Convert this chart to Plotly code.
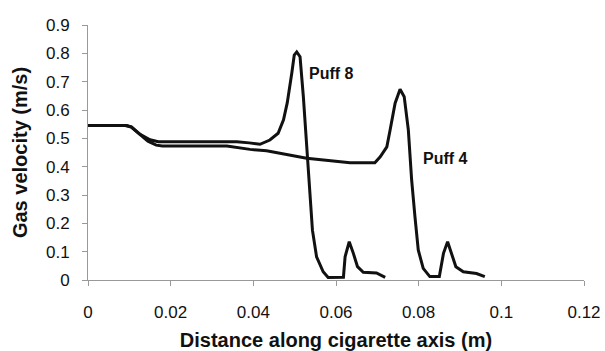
import plotly.graph_objects as go

# Puff 8 curve
x_puff8 = [0, 0.009, 0.0105, 0.0125, 0.015, 0.017, 0.02, 0.036, 0.039, 0.0416, 0.044, 0.046,
           0.0473, 0.0482, 0.0493, 0.0499, 0.0505, 0.0513, 0.0521, 0.0529, 0.0536, 0.0543,
           0.0553, 0.0569, 0.0581, 0.0602, 0.0618, 0.0622, 0.0632, 0.0642, 0.0652, 0.0666,
           0.0698, 0.0719]
y_puff8 = [0.545, 0.545, 0.54, 0.515, 0.495, 0.488, 0.488, 0.488, 0.484, 0.479, 0.494, 0.518,
           0.565, 0.625, 0.73, 0.794, 0.805, 0.788, 0.647, 0.47, 0.353, 0.176,
           0.082, 0.029, 0.009, 0.009, 0.01, 0.082, 0.135, 0.094, 0.047, 0.027,
           0.025, 0.009]

# Puff 4 curve
x_puff4 = [0, 0.0094, 0.0105, 0.0125, 0.0145, 0.0165, 0.018, 0.0336, 0.0392, 0.0432, 0.0513,
           0.0529, 0.0634, 0.0694, 0.0707, 0.0723, 0.0731, 0.0743, 0.0755, 0.0765, 0.0775,
           0.0783, 0.0791, 0.0799, 0.0811, 0.0827, 0.0850, 0.086, 0.087, 0.088, 0.089,
           0.0908, 0.094, 0.096]
y_puff4 = [0.545, 0.545, 0.54, 0.515, 0.49, 0.476, 0.473, 0.473, 0.461, 0.456, 0.433,
           0.43, 0.414, 0.414, 0.435, 0.47, 0.53, 0.624, 0.673, 0.647, 0.53,
           0.353, 0.224, 0.106, 0.041, 0.012, 0.012, 0.094, 0.135, 0.094, 0.047,
           0.029, 0.023, 0.012]

x_ticks = [0, 0.02, 0.04, 0.06, 0.08, 0.1, 0.12]
x_tick_labels = ["0", "0.02", "0.04", "0.06", "0.08", "0.1", "0.12"]
y_ticks = [0, 0.1, 0.2, 0.3, 0.4, 0.5, 0.6, 0.7, 0.8, 0.9]
y_tick_labels = ["0", "0.1", "0.2", "0.3", "0.4", "0.5", "0.6", "0.7", "0.8", "0.9"]

label_text = ["Puff 8", "Puff 4"]
label_x = [0.0588, 0.0866]
label_y = [0.73, 0.43]

font_family = "Liberation Sans, Arial, sans-serif"

fig = go.Figure()
for xs, ys, name in [(x_puff8, y_puff8, "Puff 8"), (x_puff4, y_puff4, "Puff 4")]:
    fig.add_trace(go.Scatter(x=xs, y=ys, mode="lines", name=name,
                             line=dict(color="#111111", width=3)))

for t, lx, ly in zip(label_text, label_x, label_y):
    fig.add_annotation(x=lx, y=ly, text="<b>" + t + "</b>", showarrow=False,
                       font=dict(family=font_family, size=16, color="#111111"))

fig.update_layout(
    width=605, height=351,
    margin=dict(l=88, r=21, t=25, b=71, autoexpand=False),
    plot_bgcolor="white", paper_bgcolor="white",
    showlegend=False,
    font=dict(family=font_family, color="#111111"),
)
fig.update_xaxes(
    range=[0, 0.12], tickvals=x_ticks, ticktext=x_tick_labels,
    showgrid=False, zeroline=False, showline=True, linecolor="#999999", linewidth=1,
    ticks="outside", ticklen=5, tickcolor="#999999", tickwidth=1,
    tickfont=dict(size=17), ticklabelstandoff=12, automargin=False,
    title=dict(text="<b>Distance along cigarette axis (m)</b>", font=dict(size=20), standoff=18),
)
fig.update_yaxes(
    range=[0, 0.9], tickvals=y_ticks, ticktext=y_tick_labels,
    showgrid=False, zeroline=False, showline=True, linecolor="#999999", linewidth=1,
    ticks="outside", ticklen=5, tickcolor="#999999", tickwidth=1,
    tickfont=dict(size=17), ticklabelstandoff=9, automargin=False,
    title=dict(text="<b>Gas velocity (m/s)</b>", font=dict(size=20), standoff=12),
)

fig.write_html("out.html")
